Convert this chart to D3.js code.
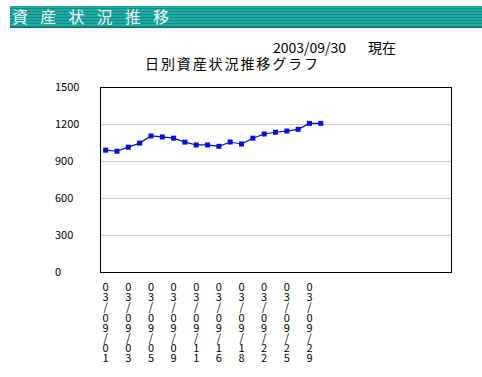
<!DOCTYPE html>
<html>
<head>
<meta charset="utf-8">
<script src="https://cdn.jsdelivr.net/npm/d3@7"></script>
<style>
  body { margin: 0; background: #fff; }
  text { font-family: "Noto Sans CJK JP", "DejaVu Sans", sans-serif; }
</style>
</head>
<body>
<div id="chart"></div>
<script>
// données
var dates = ["03/09/01", "03/09/02", "03/09/03", "03/09/04", "03/09/05",
             "03/09/08", "03/09/09", "03/09/10", "03/09/11", "03/09/12",
             "03/09/16", "03/09/17", "03/09/18", "03/09/19", "03/09/22",
             "03/09/24", "03/09/25", "03/09/26", "03/09/29", "03/09/30"];
var values = [988, 979, 1012, 1045, 1103, 1095, 1085, 1053, 1030, 1030,
              1019, 1054, 1038, 1085, 1119, 1133, 1143, 1157, 1205, 1205];
var tickLabels = ["03/09/01", "03/09/03", "03/09/05", "03/09/09", "03/09/11",
                  "03/09/16", "03/09/18", "03/09/22", "03/09/25", "03/09/29"];
var yTicks = [0, 300, 600, 900, 1200, 1500];
var slotCount = 31;

var width = 482, height = 377;
var plot = { left: 100, top: 87, right: 451, bottom: 272 };

var svg = d3.select("#chart")
            .append("svg")
            .attr("width", width)
            .attr("height", height);

// bandeau du haut
var defs = svg.append("defs");
var pat = defs.append("pattern")
              .attr("id", "stripes")
              .attr("patternUnits", "userSpaceOnUse")
              .attr("width", 4).attr("height", 3);
pat.append("rect").attr("width", 4).attr("height", 3).attr("fill", "#22aaa2");
pat.append("rect").attr("y", 2).attr("width", 4).attr("height", 1).attr("fill", "#0f8b85");

svg.append("rect")
   .attr("x", 10).attr("y", 6)
   .attr("width", width - 10).attr("height", 22)
   .attr("fill", "url(#stripes)");
svg.append("rect")
   .attr("x", 10).attr("y", 27)
   .attr("width", width - 10).attr("height", 1)
   .attr("fill", "#0a6e6a");

var headChars = "資産状況推移".split("");
svg.append("g")
   .selectAll("text")
   .data(headChars).enter()
   .append("text")
   .attr("x", function(d, i) { return 12 + i * 28.2; })
   .attr("y", 23)
   .attr("fill", "#e8fffb")
   .style("font-size", "16px")
   .text(function(d) { return d; });

// date + titre
svg.append("text")
   .attr("x", 273).attr("y", 53)
   .style("font-size", "14px")
   .attr("fill", "#000")
   .text("2003/09/30");
svg.append("text")
   .attr("x", 368).attr("y", 53)
   .style("font-size", "14px")
   .attr("fill", "#000")
   .text("現在");
svg.append("text")
   .attr("x", 145).attr("y", 69)
   .style("font-size", "14px")
   .attr("textLength", 173)
   .attr("fill", "#000")
   .text("日別資産状況推移グラフ");

// échelles
var xScale = d3.scaleBand()
  .domain(d3.range(slotCount))
  .range([plot.left, plot.right]);

var yScale = d3.scaleLinear()
  .domain([0, 1500])
  .range([plot.bottom, plot.top]);

function cx(i) { return xScale(i) + xScale.bandwidth() / 2; }

// grille
svg.append("g")
   .selectAll("line")
   .data(yTicks.filter(function(d) { return d > 0 && d < 1500; })).enter()
   .append("line")
   .attr("x1", plot.left).attr("x2", plot.right + 1)
   .attr("y1", function(d) { return Math.round(yScale(d)) + 0.5; })
   .attr("y2", function(d) { return Math.round(yScale(d)) + 0.5; })
   .attr("stroke", "#c8c8c8")
   .attr("stroke-width", 1);

// cadre
svg.append("rect")
   .attr("x", plot.left + 0.5).attr("y", plot.top + 0.5)
   .attr("width", plot.right - plot.left).attr("height", plot.bottom - plot.top)
   .attr("fill", "none")
   .attr("stroke", "#000")
   .attr("stroke-width", 1);

// axe y
svg.append("g")
   .selectAll("text")
   .data(yTicks).enter()
   .append("text")
   .attr("x", 55)
   .attr("y", function(d) { return yScale(d) + 4; })
   .style("font-size", "11px")
   .attr("fill", "#000")
   .text(function(d) { return d; });

// axe x : caractères empilés
var xl = svg.append("g")
   .selectAll("text")
   .data(tickLabels).enter()
   .append("text")
   .attr("x", function(d) { return cx(dates.indexOf(d)); })
   .attr("y", 291)
   .attr("text-anchor", "middle")
   .style("font-size", "11px")
   .attr("fill", "#000");
xl.each(function(d) {
  var t = d3.select(this);
  d.split("").forEach(function(c, k) {
    t.append("tspan")
     .attr("x", t.attr("x"))
     .attr("dy", k === 0 ? 0 : 10.2)
     .text(c);
  });
});

// courbe
var line = d3.line()
  .x(function(d, i) { return cx(i); })
  .y(function(d) { return yScale(d); });

svg.append("path")
   .datum(values)
   .attr("d", line)
   .attr("fill", "none")
   .attr("stroke", "#101080")
   .attr("stroke-width", 1.2);

svg.append("g")
   .selectAll("rect")
   .data(values).enter()
   .append("rect")
   .attr("x", function(d, i) { return cx(i) - 2.5; })
   .attr("y", function(d) { return yScale(d) - 2.5; })
   .attr("width", 5).attr("height", 5)
   .attr("fill", "#0010e8");
</script>
</body>
</html>
